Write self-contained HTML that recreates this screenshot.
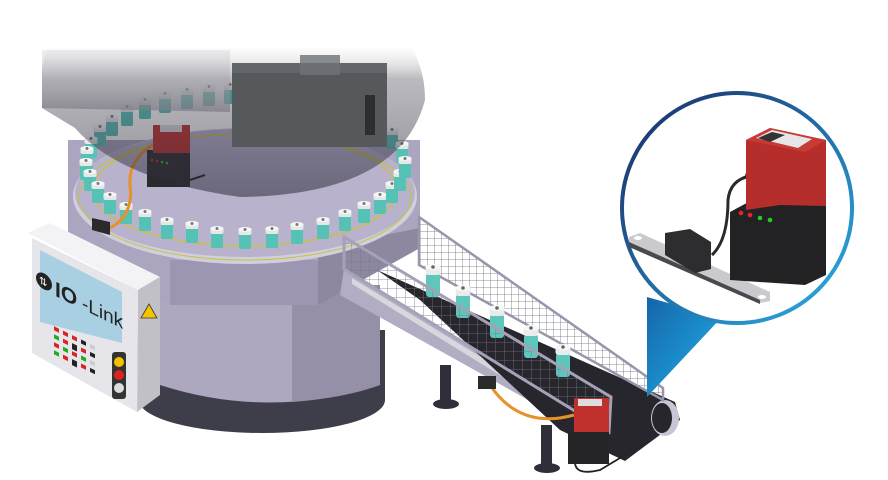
<!DOCTYPE html>
<html><head><meta charset="utf-8"><style>
html,body{margin:0;padding:0;background:#fff;width:888px;height:480px;overflow:hidden}
</style></head><body>
<svg width="888" height="480" viewBox="0 0 888 480" xmlns="http://www.w3.org/2000/svg" font-family="Liberation Sans, sans-serif">
<defs>
<linearGradient id="fade" x1="0" y1="0" x2="0" y2="197" gradientUnits="userSpaceOnUse">
<stop offset="0" stop-color="#fff" stop-opacity="0"/><stop offset="0.2" stop-color="#fff" stop-opacity="0"/><stop offset="0.4" stop-color="#3a3848" stop-opacity="0.35"/><stop offset="1" stop-color="#2e2c3a" stop-opacity="0.55"/></linearGradient>
<linearGradient id="slab" x1="0" y1="0" x2="0" y2="1"><stop offset="0" stop-color="#c8c8cc" stop-opacity="0.3"/><stop offset="1" stop-color="#7a7982" stop-opacity="0.7"/></linearGradient>
<linearGradient id="ring" x1="0" y1="0" x2="1" y2="1"><stop offset="0" stop-color="#1b2a66"/><stop offset="1" stop-color="#2ab0e6"/></linearGradient>
<linearGradient id="beam" x1="0" y1="0" x2="1" y2="1"><stop offset="0" stop-color="#1565a8"/><stop offset="1" stop-color="#21b0e8"/></linearGradient>
<pattern id="mesh" width="7" height="7" patternUnits="userSpaceOnUse"><path d="M0 0H7M0 0V7" stroke="#6a6a78" stroke-width="0.8" fill="none"/></pattern>
<pattern id="mesh2" width="9" height="9" patternUnits="userSpaceOnUse"><path d="M0 0H9M0 0V9" stroke="#75758a" stroke-width="0.8" fill="none"/></pattern>
<g id="v"><rect x="-6" y="6" width="12" height="15" rx="2" fill="#56c2b6"/><rect x="-6.5" y="0" width="13" height="7" rx="2" fill="#e4e8e8"/><ellipse cx="0" cy="1.5" rx="6.5" ry="2.5" fill="#f4f6f6"/><circle cx="0" cy="1.5" r="1.5" fill="#777"/></g>
<g id="bv"><rect x="-7" y="8" width="14" height="24" rx="3" fill="#5ec6bb"/><rect x="-7.5" y="0" width="15" height="10" rx="3" fill="#e8eceb"/><ellipse cx="0" cy="2" rx="7.5" ry="3" fill="#f6f8f8"/><circle cx="0" cy="2" r="1.8" fill="#666"/></g>
</defs>

<!-- base -->
<path d="M140 330 L140 400 Q262 460 385 400 L385 330 Z" fill="#3e3d4a"/>
<ellipse cx="262" cy="400" rx="123" ry="33" fill="#3e3d4a"/>
<path d="M160 285 L160 385 Q268 420 380 385 L380 285 Z" fill="#ada7bf"/>
<path d="M292 285 L292 402 Q345 398 380 385 L380 285 Z" fill="#958fa8"/>
<!-- body octagon -->
<polygon points="68,140 420,140 420,228 380,248 318,305 170,305 68,250" fill="#aba5bf"/>
<polygon points="318,248 420,228 420,248 318,305" fill="#8d88a0"/>
<polygon points="170,260 318,260 318,305 170,305" fill="#9c96b2"/>
<!-- table -->
<ellipse cx="245" cy="196" rx="172" ry="68" fill="#d2cfdc"/>
<ellipse cx="245" cy="193" rx="170" ry="64" fill="#b8b2cc"/>
<ellipse cx="245" cy="190" rx="152" ry="56" fill="none" stroke="#c9c23a" stroke-width="1.3"/>
<ellipse cx="245" cy="197" rx="166" ry="63" fill="none" stroke="#c9c23a" stroke-width="1"/>
<!-- vials -->
<g>
<use href="#v" x="100" y="125"/><use href="#v" x="112" y="115"/><use href="#v" x="127" y="105"/><use href="#v" x="145" y="98"/><use href="#v" x="165" y="92"/><use href="#v" x="187" y="88"/><use href="#v" x="209" y="85"/><use href="#v" x="230" y="83"/>
<use href="#v" x="378" y="115"/><use href="#v" x="392" y="128"/><use href="#v" x="402" y="142"/>
<use href="#v" x="91" y="137"/><use href="#v" x="87" y="147"/><use href="#v" x="86" y="159"/><use href="#v" x="90" y="170"/><use href="#v" x="98" y="182"/><use href="#v" x="110" y="193"/><use href="#v" x="126" y="203"/>
<use href="#v" x="145" y="210"/><use href="#v" x="167" y="218"/><use href="#v" x="192" y="222"/><use href="#v" x="217" y="227"/><use href="#v" x="245" y="228"/><use href="#v" x="272" y="227"/><use href="#v" x="297" y="223"/><use href="#v" x="323" y="218"/><use href="#v" x="345" y="210"/><use href="#v" x="364" y="202"/><use href="#v" x="380" y="193"/><use href="#v" x="392" y="182"/><use href="#v" x="400" y="170"/><use href="#v" x="405" y="157"/>
</g>
<!-- top sensor -->
<path d="M154 144 Q128 160 130 185 Q134 215 110 228" stroke="#e8902a" stroke-width="3" fill="none"/>
<rect x="147" y="150" width="43" height="37" fill="#2a2a2c"/>
<rect x="153" y="125" width="37" height="28" fill="#c0302c"/>
<rect x="160" y="125" width="22" height="7" fill="#ddd"/>
<circle cx="152" cy="160" r="1.3" fill="#e22"/><circle cx="157" cy="161" r="1.3" fill="#e22"/><circle cx="162" cy="162" r="1.3" fill="#2c2"/><circle cx="167" cy="163" r="1.3" fill="#2c2"/>
<path d="M190 180 L205 175" stroke="#222" stroke-width="2"/>
<polygon points="92,218 110,222 110,235 92,230" fill="#2a2a2a"/>
<!-- translucent overlay -->
<path d="M42 68 L42 108 L75 128 Q120 180 240 197 Q400 195 425 100 Q425 20 330 0 L60 0 Z" fill="url(#fade)"/>
<polygon points="42,50 230,50 230,112 42,108" fill="url(#slab)"/>
<rect x="232" y="63" width="155" height="84" fill="#55595c"/>
<rect x="232" y="63" width="155" height="10" fill="#62666a"/>
<rect x="300" y="55" width="40" height="20" fill="#6e7276" opacity="0.8"/>
<rect x="365" y="95" width="10" height="40" fill="#2c2e30"/>
<rect x="0" y="0" width="888" height="48" fill="#fff" opacity="0.5"/>
<!-- conveyor -->
<polygon points="344,269 609,432 600,440 340,295" fill="#b2adc2"/>
<polygon points="352,278 600,430 595,434 352,284" fill="#d7d7dd"/>
<polygon points="377,270 675,402 680,420 625,461 560,430 420,300" fill="#26262c"/>
<ellipse cx="665" cy="418" rx="14" ry="18" fill="#c8c6d4"/>
<ellipse cx="662" cy="418" rx="10" ry="15" fill="#26262c"/>
<rect x="440" y="365" width="11" height="40" fill="#2f2f3a"/><ellipse cx="446" cy="404" rx="13" ry="5" fill="#2f2f3a"/>
<rect x="541" y="425" width="11" height="43" fill="#2f2f3a"/><ellipse cx="547" cy="468" rx="13" ry="5" fill="#2f2f3a"/>
<!-- back mesh -->
<polygon points="419,217 663,388 663,400 419,265" fill="url(#mesh)" stroke="#9995aa" stroke-width="2.5"/>
<!-- belt vials -->
<use href="#bv" x="433" y="265"/><use href="#bv" x="463" y="286"/><use href="#bv" x="497" y="306"/><use href="#bv" x="531" y="326"/><use href="#bv" x="563" y="345"/>
<!-- front mesh -->
<polygon points="344,237 611,397 609,432 344,269" fill="url(#mesh2)" stroke="#a5a1b6" stroke-width="3"/>
<!-- bottom sensor -->
<path d="M490 385 Q520 430 574 415" stroke="#e8902a" stroke-width="3" fill="none"/>
<rect x="478" y="376" width="18" height="13" fill="#2a2a2a"/>
<rect x="568" y="432" width="41" height="32" fill="#252527"/>
<rect x="574" y="398" width="35" height="34" fill="#c0302c"/>
<rect x="578" y="399" width="24" height="7" fill="#ddd"/>
<path d="M575 462 Q575 476 600 470 L625 455" stroke="#222" stroke-width="1.8" fill="none"/>
<!-- control panel -->
<polygon points="28,233 50,223 160,277 138,290" fill="#f3f3f5"/>
<polygon points="138,290 160,277 160,395 137,412" fill="#c0c0c6"/>
<polygon points="32,238 138,290 137,412 32,353" fill="#e6e6ea"/>
<polygon points="40,250 122,292 122,343 40,322" fill="#a9d0e2"/>
<g transform="translate(37,270) skewY(26)">
<circle cx="7" cy="8" r="8" fill="#222"/><text x="2" y="12" font-size="10" fill="#fff">⇅</text>
<text x="18" y="17" font-size="21" font-weight="bold" fill="#222">IO</text>
<text x="45" y="17" font-size="19" fill="#222">-Link</text>
<g>
<rect x="17" y="48" width="5" height="4" fill="#d22"/><rect x="26" y="48" width="5" height="4" fill="#d22"/><rect x="35" y="48" width="5" height="4" fill="#d22"/><rect x="44" y="48" width="5" height="4" fill="#222"/><rect x="53" y="48" width="5" height="4" fill="#ccc"/>
<rect x="17" y="56" width="5" height="4" fill="#2a2"/><rect x="26" y="56" width="5" height="4" fill="#d22"/><rect x="35" y="56" width="5" height="6" fill="#222"/><rect x="44" y="56" width="5" height="4" fill="#d22"/><rect x="53" y="56" width="5" height="4" fill="#222"/>
<rect x="17" y="64" width="5" height="4" fill="#d22"/><rect x="26" y="64" width="5" height="4" fill="#2a2"/><rect x="35" y="64" width="5" height="4" fill="#d22"/><rect x="44" y="64" width="5" height="4" fill="#2a2"/><rect x="53" y="64" width="5" height="4" fill="#ccc"/>
<rect x="17" y="72" width="5" height="4" fill="#2a2"/><rect x="26" y="72" width="5" height="4" fill="#d22"/><rect x="35" y="72" width="5" height="6" fill="#222"/><rect x="44" y="72" width="5" height="4" fill="#d22"/><rect x="53" y="72" width="5" height="4" fill="#222"/>
</g>
</g>
<rect x="112" y="352" width="14" height="47" rx="3" fill="#333"/>
<circle cx="119" cy="362" r="5" fill="#f2c200"/><circle cx="119" cy="375" r="5" fill="#d22"/><circle cx="119" cy="388" r="5" fill="#ddd"/>
<polygon points="149,304 141,318 157,318" fill="#f4c400" stroke="#333" stroke-width="0.8"/>
<!-- callout beam -->
<polygon points="647,297 721,318 647,397" fill="url(#beam)"/>
<!-- callout circle -->
<circle cx="737" cy="208" r="115" fill="#fff" stroke="url(#ring)" stroke-width="4"/>
<polygon points="629,237 640,233 770,292 770,301 760,303 629,245" fill="#c9c9ce"/>
<polygon points="629,242 760,300 760,304 629,247" fill="#4a4a4e"/>
<ellipse cx="638" cy="238" rx="4" ry="2" fill="#fff"/><ellipse cx="762" cy="297" rx="4" ry="2" fill="#fff"/>
<polygon points="665,233 690,229 711,242 711,269 695,273 665,255" fill="#2d2d2f"/>
<path d="M750 176 Q730 180 728 200 Q728 240 712 255" stroke="#2a2a2a" stroke-width="3" fill="none"/>
<circle cx="750" cy="176" r="5" fill="#222"/>
<polygon points="730,212 756,198 826,206 826,275 805,285 730,280" fill="#222224"/>
<polygon points="746,140 770,128 826,140 826,206 780,205 746,210" fill="#b52e2b"/>
<polygon points="746,140 770,128 826,140 805,152" fill="#c83a36"/>
<polygon points="756,138 772,130 812,139 798,148" fill="#e6e6e8"/>
<polygon points="758,138 772,132 785,135 770,142" fill="#333"/>
<circle cx="741" cy="213" r="2.3" fill="#e22"/><circle cx="750" cy="215" r="2.3" fill="#e22"/><circle cx="760" cy="218" r="2.3" fill="#2c2"/><circle cx="770" cy="220" r="2.3" fill="#2c2"/>
</svg>
</body></html>
